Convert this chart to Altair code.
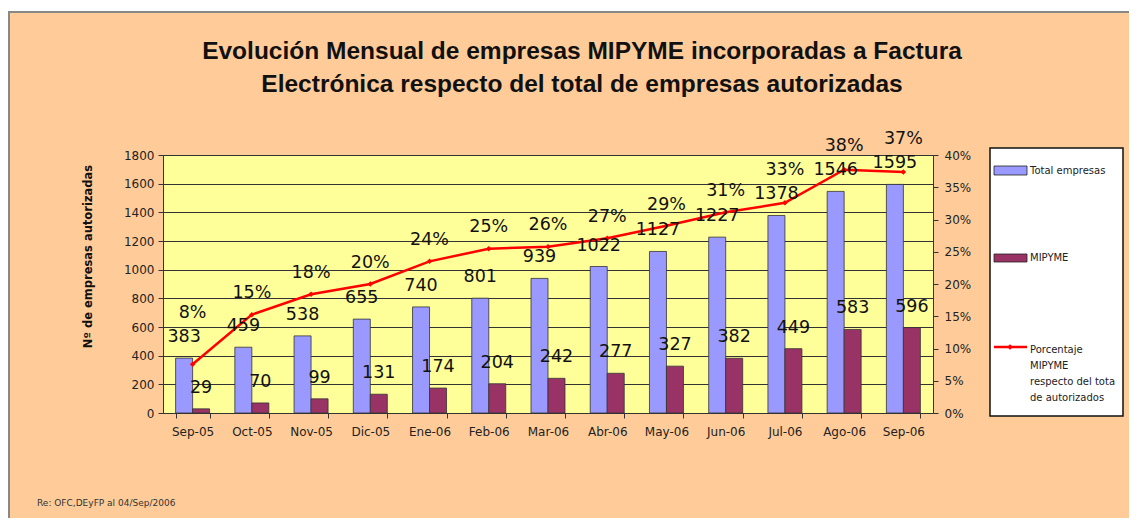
import altair as alt
import pandas as pd

months = ["Sep-05", "Oct-05", "Nov-05", "Dic-05", "Ene-06", "Feb-06", "Mar-06",
          "Abr-06", "May-06", "Jun-06", "Jul-06", "Ago-06", "Sep-06"]
total_empresas = [383, 459, 538, 655, 740, 801, 939, 1022, 1127, 1227, 1378, 1546, 1595]
mipyme = [29, 70, 99, 131, 174, 204, 242, 277, 327, 382, 449, 583, 596]
porcentaje = [7.57, 15.25, 18.40, 20.00, 23.51, 25.47, 25.77, 27.10, 29.02, 31.13, 32.58, 37.71, 37.37]

series_names = ["Total empresas", "MIPYME"]
series_colors = ["#9999FF", "#993366"]
line_color = "#FF0000"

title_lines = ["Evolución Mensual de empresas MIPYME incorporadas a Factura",
               "Electrónica respecto del total de empresas autorizadas"]
y_title = "Nº de empresas autorizadas"
legend_line_label = ["Porcentaje", "MIPYME", "respecto del tota", "de autorizados"]
footnote = "Re: OFC,DEyFP al 04/Sep/2006"

df = pd.DataFrame({"mes": months, "Total empresas": total_empresas,
                   "MIPYME": mipyme, "pct": porcentaje})
one = pd.DataFrame({"k": [0]})

W, H = 770, 258
FONT = "DejaVu Sans"

x_scale = alt.Scale(paddingInner=0.426, paddingOuter=0.213)
x_axis = alt.Axis(title=None, labelAngle=0, tickBand="extent", labelFont=FONT,
                  labelFontSize=12, labelColor="#222", labelPadding=8, tickSize=5,
                  tickColor="#333", domainColor="#333", grid=False)
x_main = alt.X("mes:N", sort=months, scale=x_scale, axis=x_axis)
x_plain = alt.X("mes:N", sort=months, scale=x_scale)
xoff = alt.XOffset("serie:N", sort=series_names, scale=alt.Scale(paddingInner=0, paddingOuter=0))

tot_scale = alt.Scale(domain=[0, 1800], nice=False)
pct_scale = alt.Scale(domain=[0, 40], nice=False)

bars = alt.Chart(df).transform_fold(series_names, as_=["serie", "valor"]).mark_bar(
    stroke="#333", strokeWidth=0.8
).encode(
    x=x_main,
    xOffset=xoff,
    y=alt.Y("valor:Q", scale=tot_scale,
            axis=alt.Axis(values=list(range(0, 1801, 200)), format="d", title=y_title, grid=True,
                          gridColor="#333", gridWidth=1, labelFont=FONT, labelFontSize=12,
                          labelColor="#222", labelPadding=4, tickSize=5, tickColor="#333",
                          domainColor="#333", titleFont=FONT, titleFontSize=11.5,
                          titleFontWeight="bold", titleColor="#111", titleX=-75, titleY=101,
                          titleAngle=270, titleAlign="center", titleBaseline="middle")),
    color=alt.Color("serie:N", scale=alt.Scale(domain=series_names, range=series_colors), legend=None),
)

bar_labels = alt.Chart(df).transform_fold(series_names, as_=["serie", "valor"]).mark_text(
    font=FONT, fontSize=17.5, dy=-21, color="#111", baseline="middle"
).encode(
    x=x_plain,
    xOffset=xoff,
    y=alt.Y("valor:Q", scale=tot_scale, axis=None),
    text=alt.Text("valor:Q", format="d"),
)

line = alt.Chart(df).mark_line(color=line_color, strokeWidth=2.5).encode(
    x=x_plain,
    y=alt.Y("pct:Q", scale=pct_scale,
            axis=alt.Axis(orient="right", values=list(range(0, 41, 5)), title=None, grid=False,
                          labelExpr="datum.value + '%'", labelFont=FONT, labelFontSize=12,
                          labelColor="#222", labelPadding=6, tickSize=5, tickColor="#333",
                          domainColor="#333")),
)

pts = alt.Chart(df).mark_point(shape="diamond", filled=True, color=line_color, size=30, opacity=1).encode(
    x=x_plain,
    y=alt.Y("pct:Q", scale=pct_scale, axis=None),
)

pct_labels = alt.Chart(df).transform_calculate(
    lab="max(datum.pct + 3.3, datum['Total empresas'] / 45 + 7)",
    txt="round(datum.pct) + '%'",
).mark_text(font=FONT, fontSize=17.5, color="#111", baseline="middle").encode(
    x=x_plain,
    y=alt.Y("lab:Q", scale=pct_scale, axis=None),
    text="txt:N",
)

# decorations (frame, title, legend, footnote)
white_strip = alt.Chart(one).mark_rect(color="white").encode(
    x=alt.value(-155), x2=alt.value(966), y=alt.value(-147), y2=alt.value(-143))
top_rule = alt.Chart(one).mark_rule(color="#888", strokeWidth=2).encode(
    x=alt.value(-155), x2=alt.value(966), y=alt.value(-143))
left_rule = alt.Chart(one).mark_rule(color="#888", strokeWidth=2).encode(
    x=alt.value(-154), y=alt.value(-143), y2=alt.value(363))

title = alt.Chart(one).mark_text(font="Liberation Sans", fontSize=24.5, fontWeight="bold",
                                 align="center", baseline="middle", lineHeight=33,
                                 color="#111").encode(
    x=alt.value(419), y=alt.value(-103), text=alt.value(title_lines))

legend_box = alt.Chart(one).mark_rect(fill="white", stroke="#111", strokeWidth=1.5).encode(
    x=alt.value(827), x2=alt.value(960), y=alt.value(-7), y2=alt.value(261))
sw1 = alt.Chart(one).mark_rect(fill=series_colors[0], stroke="#222", strokeWidth=0.8).encode(
    x=alt.value(831), x2=alt.value(864), y=alt.value(11), y2=alt.value(20))
sw2 = alt.Chart(one).mark_rect(fill=series_colors[1], stroke="#222", strokeWidth=0.8).encode(
    x=alt.value(831), x2=alt.value(864), y=alt.value(99), y2=alt.value(107))
lt1 = alt.Chart(one).mark_text(font=FONT, fontSize=10, align="left", baseline="middle",
                               color="#222").encode(
    x=alt.value(867), y=alt.value(15.5), text=alt.value(series_names[0]))
lt2 = alt.Chart(one).mark_text(font=FONT, fontSize=10, align="left", baseline="middle",
                               color="#222").encode(
    x=alt.value(867), y=alt.value(103), text=alt.value(series_names[1]))
lline = alt.Chart(one).mark_rule(color=line_color, strokeWidth=2.5).encode(
    x=alt.value(831), x2=alt.value(864), y=alt.value(192))
lpt = alt.Chart(one).mark_point(shape="diamond", filled=True, color=line_color, size=30, opacity=1).encode(
    x=alt.value(847), y=alt.value(192))
lt3 = alt.Chart(one).mark_text(font=FONT, fontSize=10, align="left", baseline="alphabetic",
                               lineHeight=16, color="#222").encode(
    x=alt.value(867), y=alt.value(197.5), text=alt.value(legend_line_label))

foot = alt.Chart(one).mark_text(font=FONT, fontSize=9, align="left", baseline="middle",
                                color="#333").encode(
    x=alt.value(-126), y=alt.value(348), text=alt.value(footnote))

chart = alt.layer(
    white_strip, top_rule, left_rule,
    bars, line, pts, bar_labels, pct_labels,
    title, legend_box, sw1, sw2, lt1, lt2, lline, lpt, lt3, foot,
).resolve_scale(y="independent").properties(
    width=W, height=H,
    autosize=alt.AutoSizeParams(type="none"),
    padding={"left": 155, "top": 147, "right": 196, "bottom": 105},
    background="#FFCC99",
).configure_view(fill="#FFFF99", stroke="#808080", strokeWidth=1)

chart.save("out.html", embed_options={"renderer": "svg", "actions": False})
